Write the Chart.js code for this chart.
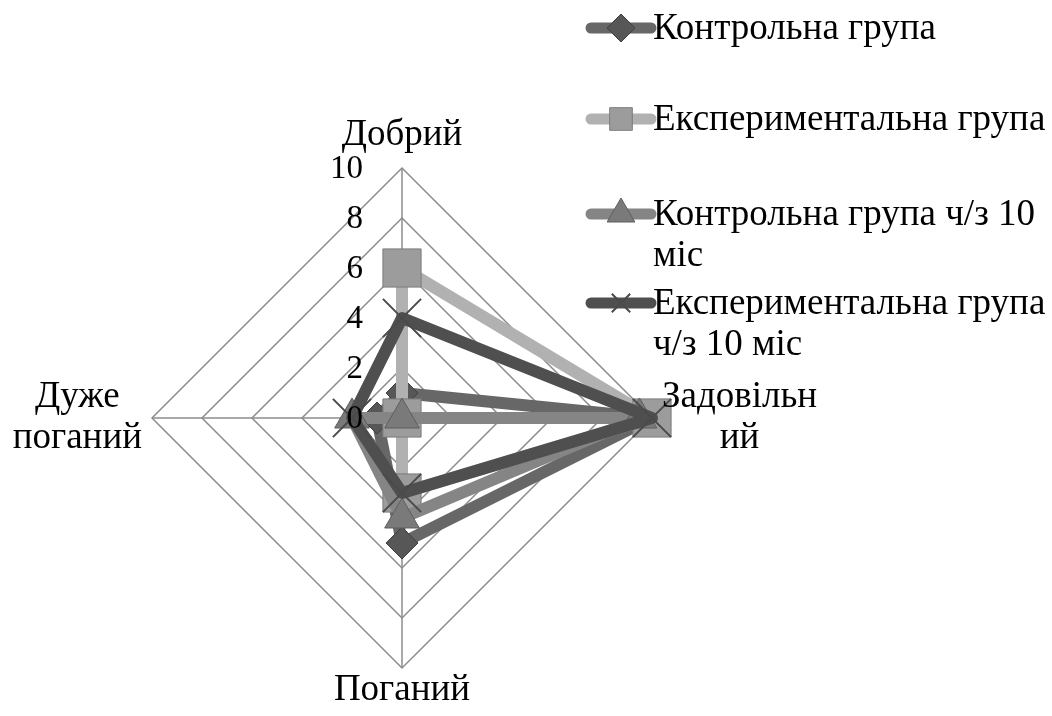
<!DOCTYPE html>
<html>
<head>
<meta charset="utf-8">
<script src="https://cdn.jsdelivr.net/npm/chart.js@4/dist/chart.umd.min.js"></script>
<style>
  body { margin: 0; background: #fff; }
  #wrap { width: 1052px; height: 716px; }
</style>
</head>
<body>
<div id="wrap"><canvas id="radarChart" width="1052" height="716"></canvas></div>
<script>
// categories and their label lines (as wrapped in the original)
const categories = ['Добрий', 'Задовільний', 'Поганий', 'Дуже поганий'];
const categoryLines = [['Добрий'], ['Задовільн', 'ий'], ['Поганий'], ['Дуже', 'поганий']];

// series
const seriesNames = ['Контрольна група', 'Експериментальна група', 'Контрольна група ч/з 10 міс', 'Експериментальна група ч/з 10 міс'];
const legendLines = [['Контрольна група'], ['Експериментальна група'], ['Контрольна група ч/з 10', 'міс'], ['Експериментальна група', 'ч/з 10 міс']];
const control = [1, 10, 5, 1];
const experimental = [6, 10, 3, 0];
const control10 = [0, 9.5, 4, 2];
const experimental10 = [4, 10, 3, 2];

const tickValues = [0, 2, 4, 6, 8, 10];

const FONT = '"Liberation Serif", "Times New Roman", serif';

const datasets = [
  { label: seriesNames[0], data: control, borderColor: '#676767', pointStyle: 'rectRot', pointRadius: 16,
    pointBackgroundColor: '#575757', pointBorderColor: '#404040', pointBorderWidth: 1, order: 4 },
  { label: seriesNames[1], data: experimental, borderColor: '#b1b1b1', pointStyle: 'rect', pointRadius: 27,
    pointBackgroundColor: '#9c9c9c', pointBorderColor: '#7c7c7c', pointBorderWidth: 1, order: 3 },
  { label: seriesNames[2], data: control10, borderColor: '#858585', pointStyle: 'triangle', pointRadius: 20,
    pointBackgroundColor: '#7a7a7a', pointBorderColor: '#5e5e5e', pointBorderWidth: 1, order: 2 },
  { label: seriesNames[3], data: experimental10, borderColor: '#4f4f4f', pointStyle: 'crossRot', pointRadius: 27,
    pointBackgroundColor: '#4a4a4a', pointBorderColor: '#4a4a4a', pointBorderWidth: 2, order: 1 }
].map(d => Object.assign({ borderWidth: 12, fill: false, tension: 0, borderJoinStyle: 'round' }, d));

// category labels around the web
const pointLabelsPlugin = {
  id: 'pointLabelsCustom',
  afterDraw(chart) {
    const scale = chart.scales.r;
    const ctx = chart.ctx;
    const gaps = [12, 10, 2, 10];
    const lineH = 41;
    ctx.save();
    ctx.font = '37px ' + FONT;
    ctx.fillStyle = '#000';
    ctx.textAlign = 'center';
    ctx.textBaseline = 'middle';
    categoryLines.forEach((lines, i) => {
      const w = Math.max(...lines.map(l => ctx.measureText(l).width));
      const h = lines.length * lineH;
      const angle = scale.getIndexAngle(i);
      const p = scale.getPointPosition(i, scale.drawingArea + gaps[i]);
      const cx = p.x + Math.sin(angle) * w / 2;
      const cy = p.y - Math.cos(angle) * h / 2;
      lines.forEach((l, k) => {
        ctx.fillText(l, cx, cy - h / 2 + lineH / 2 + k * lineH);
      });
    });
    ctx.restore();
  }
};

// tick numbers to the left of the top spoke, over the data
const tickLabelsPlugin = {
  id: 'tickLabelsCustom',
  afterDatasetsDraw(chart) {
    const scale = chart.scales.r;
    const ctx = chart.ctx;
    ctx.save();
    ctx.font = '33px ' + FONT;
    ctx.fillStyle = '#000';
    ctx.textAlign = 'right';
    ctx.textBaseline = 'middle';
    tickValues.forEach(v => {
      const y = scale.yCenter - scale.getDistanceFromCenterForValue(v);
      ctx.fillText(String(v), scale.xCenter - 39, y + 1);
    });
    ctx.restore();
  }
};

// legend on the right, line + marker + wrapped text
const legendPlugin = {
  id: 'legendCustom',
  afterDraw(chart) {
    const ctx = chart.ctx;
    const rowsY = [28, 119, 214, 303];
    const markerR = [14, 16, 16, 13];
    const lineH = 41;
    ctx.save();
    chart.data.datasets.forEach((ds, i) => {
      const y = rowsY[i];
      ctx.lineCap = 'round';
      ctx.strokeStyle = ds.borderColor;
      ctx.lineWidth = 11;
      ctx.beginPath();
      ctx.moveTo(591, y);
      ctx.lineTo(651, y);
      ctx.stroke();
      ctx.lineCap = 'butt';
      ctx.fillStyle = ds.pointBackgroundColor;
      ctx.strokeStyle = ds.pointBorderColor;
      ctx.lineWidth = ds.pointBorderWidth;
      Chart.helpers.drawPoint(ctx, { pointStyle: ds.pointStyle, radius: markerR[i], rotation: 0, borderWidth: ds.pointBorderWidth }, 621, y);
      ctx.font = '37px ' + FONT;
      ctx.fillStyle = '#000';
      ctx.textAlign = 'left';
      ctx.textBaseline = 'middle';
      legendLines[i].forEach((l, k) => ctx.fillText(l, 653, y + 1 + k * lineH));
    });
    ctx.restore();
  }
};

new Chart(document.getElementById('radarChart').getContext('2d'), {
  type: 'radar',
  data: { labels: categories, datasets: datasets },
  options: {
    responsive: false,
    animation: false,
    layout: { padding: { left: 152, right: 400, top: 168, bottom: 48 } },
    plugins: { legend: { display: false }, tooltip: { enabled: false } },
    scales: {
      r: {
        min: 0,
        max: 10,
        ticks: { stepSize: 2, display: false },
        grid: { color: '#8c8c8c', lineWidth: 1.5 },
        angleLines: { color: '#8c8c8c', lineWidth: 1.5 },
        pointLabels: { display: false }
      }
    }
  },
  plugins: [tickLabelsPlugin, pointLabelsPlugin, legendPlugin]
});
</script>
</body>
</html>
